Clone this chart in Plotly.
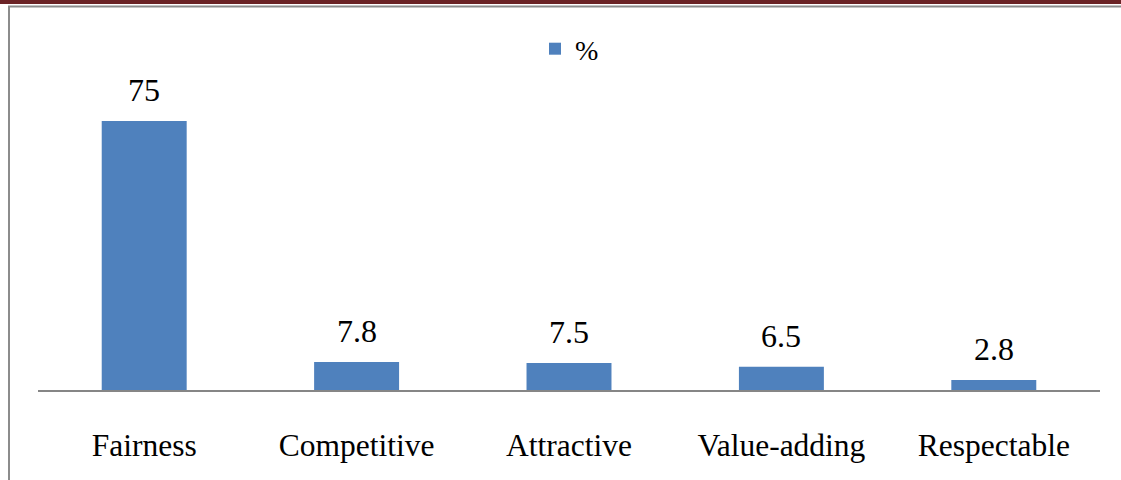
import plotly.graph_objects as go

categories = ["Fairness", "Competitive", "Attractive", "Value-adding", "Respectable"]
values = [75, 7.8, 7.5, 6.5, 2.8]
labels = ["75", "7.8", "7.5", "6.5", "2.8"]
series_name = "%"

W, H = 1121, 480
ML, MR, MT, MB = 38, 21, 103, 90
PW, PH = W - ML - MR, H - MT - MB

def px(x):
    return (x - ML) / PW

def py(y):
    return (H - MB - y) / PH

BLUE = "#4F81BD"
FONT = "Liberation Serif, Times New Roman, serif"

fig = go.Figure()
fig.add_trace(go.Bar(
    x=categories, y=values, name=series_name,
    marker=dict(color=BLUE, line=dict(width=0)),
    width=0.4,
))

for c, v, t in zip(categories, values, labels):
    fig.add_annotation(x=c, y=v, text=t, showarrow=False, yanchor="bottom",
                       yshift=11, font=dict(family=FONT, size=32, color="#000"))

shapes = [
    dict(type="rect", xref="paper", yref="paper", x0=px(0), x1=px(W), y0=py(0), y1=py(4),
         fillcolor="#6B2326", line=dict(width=0), layer="above"),
    dict(type="line", xref="paper", yref="paper", x0=px(8), x1=px(W), y0=py(6.5), y1=py(6.5),
         line=dict(color="#8C8C8C", width=2)),
    dict(type="line", xref="paper", yref="paper", x0=px(9), x1=px(9), y0=py(6), y1=py(H),
         line=dict(color="#8C8C8C", width=2)),
]

fig.update_layout(
    width=W, height=H,
    margin=dict(l=ML, r=MR, t=MT, b=MB, pad=0),
    paper_bgcolor="white", plot_bgcolor="white",
    showlegend=True,
    legend=dict(orientation="h", x=px(535), y=py(49), xanchor="left", yanchor="middle",
                font=dict(family=FONT, size=28, color="#000"), itemwidth=30,
                bgcolor="rgba(0,0,0,0)"),
    xaxis=dict(showline=True, linecolor="#868686", linewidth=1.5, ticks="",
               tickfont=dict(family=FONT, size=31.5, color="#000"), ticklabelstandoff=26,
               showgrid=False, zeroline=False),
    yaxis=dict(range=[0, 80], visible=False, showgrid=False, zeroline=False),
    shapes=shapes,
    bargap=0.6,
)

fig.write_html("out.html")
